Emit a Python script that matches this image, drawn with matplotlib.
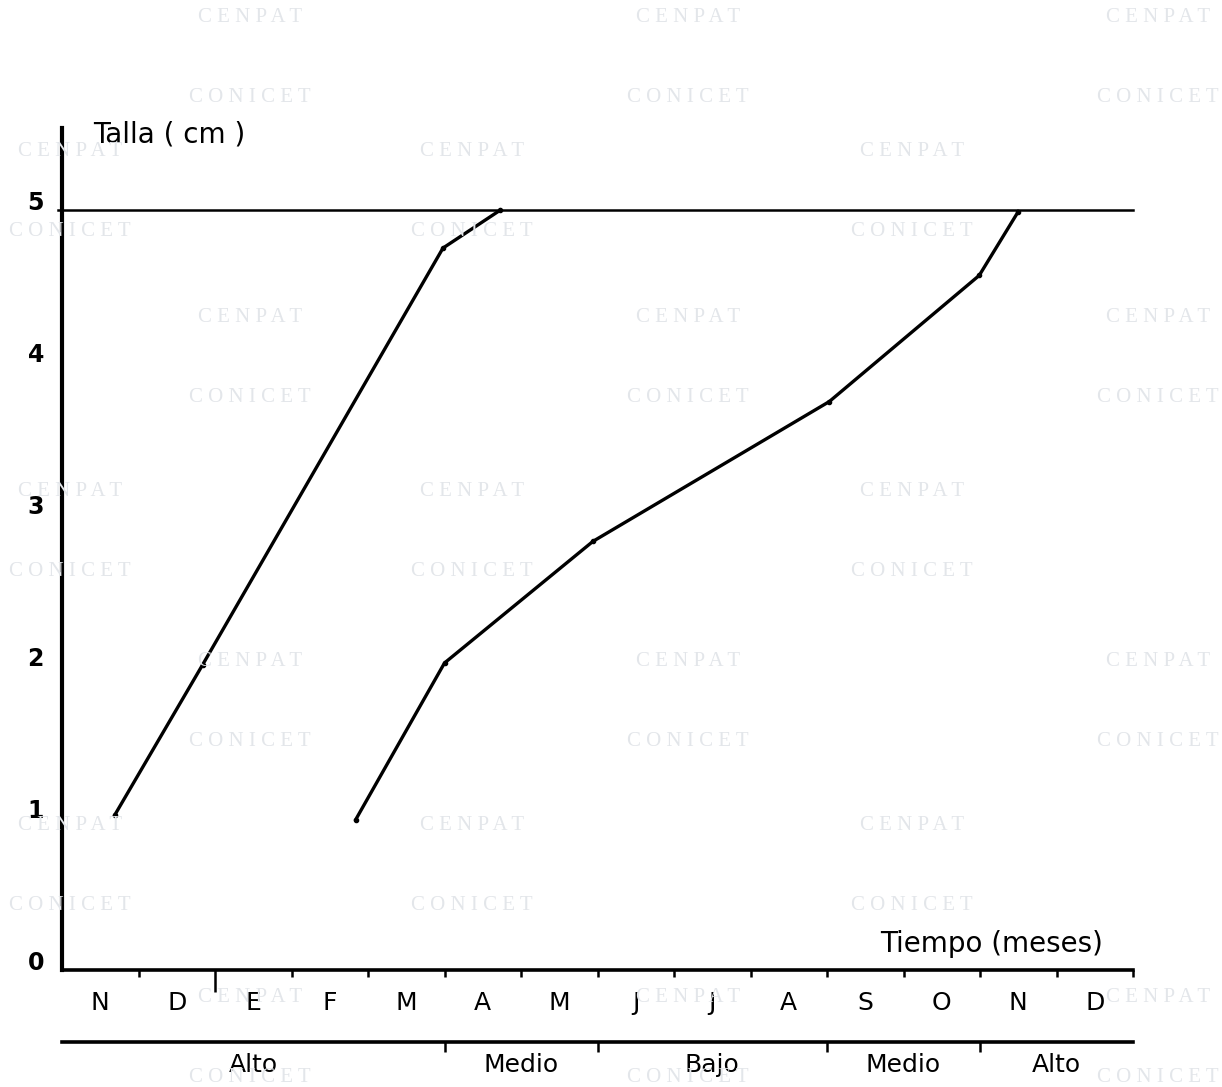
import numpy as np
from matplotlib import pyplot as plt

# months shown on the time axis (Nov .. Dec of the next year)
months = ['N', 'D', 'E', 'F', 'M', 'A', 'M', 'J', 'J', 'A', 'S', 'O', 'N', 'D']
year_change = 2  # boundary Dec -> Jan

# growth curves: time in months from the start of November, size in cm
t_first = [0.69, 1.84, 4.98, 5.73]
size_first = [1.02, 2.01, 4.75, 5.0]
t_second = [3.84, 5.0, 6.94, 10.03, 11.99, 12.5]
size_second = [0.99, 2.02, 2.82, 3.74, 4.57, 4.99]

limit_size = 5

# level bands under the time axis
band_edges = [0, 5, 7, 10, 12, 14]
band_names = ['Alto', 'Medio', 'Bajo', 'Medio', 'Alto']

W, H = 1222, 1087
fig = plt.figure(figsize=(W / 100, H / 100), dpi=100)
fig.patch.set_facecolor('white')

# faint scan watermark
wm_cols_a = [250, 688, 1158]
wm_cols_b = [70, 472, 912]
wm_rows = [17, 152, 318, 492, 662, 826, 998]
for r, y in enumerate(wm_rows):
    cols = wm_cols_a if r % 2 == 0 else wm_cols_b
    for x in cols:
        fig.text(x / W, 1 - y / H, 'C E N P A T', ha='center', va='center',
                 fontsize=15, color='#e3e6ea', family='Liberation Serif', zorder=0)
        fig.text(x / W, 1 - (y + 80) / H, 'C O N I C E T', ha='center', va='center',
                 fontsize=15, color='#e3e6ea', family='Liberation Serif', zorder=0)

ax = fig.add_axes([62 / W, 1 - 970 / H, (1133 - 62) / W, (970 - 128) / H])
ax.patch.set_alpha(0)
ax.set_xlim(0, len(months))
ax.set_ylim(0, 5.54)

for s in ['top', 'right']:
    ax.spines[s].set_visible(False)
ax.spines['left'].set_linewidth(3)
ax.spines['bottom'].set_linewidth(2.6)

ax.plot(t_first, size_first, color='black', lw=2.4, marker='o', ms=3)
ax.plot(t_second, size_second, color='black', lw=2.4, marker='o', ms=3)
ax.axhline(limit_size, xmin=-0.004, xmax=1, color='black', lw=1.8, clip_on=False)

# y axis
ax.set_yticks(range(0, 6))
ax.set_yticklabels([str(i) for i in range(0, 6)], fontsize=17, fontweight='bold')
ax.tick_params(axis='y', length=0, pad=13)
for lab in ax.get_yticklabels():
    lab.set_va('baseline')

# x axis: ticks at month boundaries, labels at month centres
ax.set_xticks(np.arange(1, len(months) + 1))
ax.set_xticklabels([])
ax.set_xticks(np.arange(len(months)) + 0.5, minor=True)
ax.set_xticklabels(months, minor=True, fontsize=18)
ax.tick_params(axis='x', which='major', length=5, width=1.8, direction='out')
ax.tick_params(axis='x', which='minor', length=0, pad=15)
ax.xaxis.get_major_ticks()[year_change - 1].tick1line.set_markersize(16)

ax.text(0.029, 0.992, 'Talla ( cm )', transform=ax.transAxes, fontsize=20,
        ha='left', va='center')
ax.text(0.972, 0.031, 'Tiempo (meses)', transform=ax.transAxes, fontsize=20,
        ha='right', va='center')

# level band axis
band = ax.secondary_xaxis(-(1042 - 970) / (970 - 128))
band.spines['bottom'].set_linewidth(2.6)
band.set_xticks(band_edges[1:-1])
band.set_xticklabels([])
centres = [(a + b) / 2 for a, b in zip(band_edges[:-1], band_edges[1:])]
band.set_xticks(centres, minor=True)
band.set_xticklabels(band_names, minor=True, fontsize=18)
band.tick_params(axis='x', which='major', length=7, width=1.8, direction='out')
band.tick_params(axis='x', which='minor', length=0, pad=8)

fig.savefig('out.png', dpi=100, facecolor='white')
